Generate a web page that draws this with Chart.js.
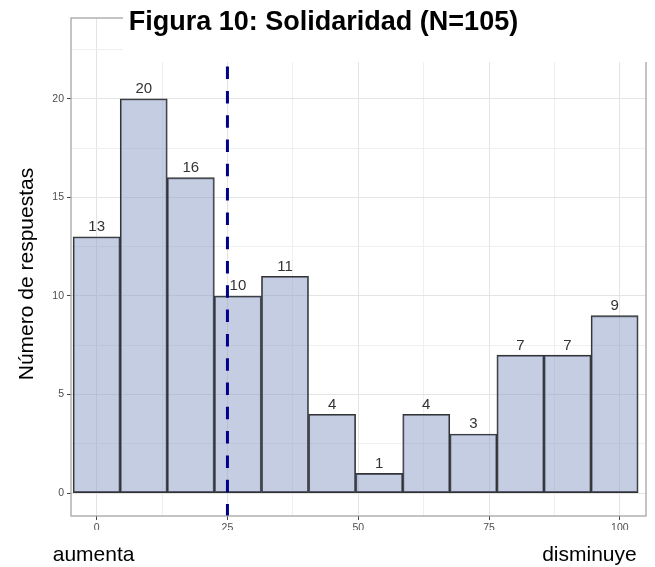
<!DOCTYPE html>
<html>
<head>
<meta charset="utf-8">
<script src="https://cdn.jsdelivr.net/npm/chart.js@4.4.1/dist/chart.umd.min.js"></script>
<style>
  html, body { margin: 0; padding: 0; background: #fff; }
  #grafico { display: block; }
</style>
</head>
<body>
<canvas id="grafico" width="655" height="567"></canvas>
<script>
'use strict'

// histograma: centro de cada intervalo y numero de respuestas
var centros = [0, 9, 18, 27, 36, 45, 54, 63, 72, 81, 90, 99];
var respuestas = [13, 20, 16, 10, 11, 4, 1, 4, 3, 7, 7, 9];
var ticksX = [0, 12.5, 25, 37.5, 50, 62.5, 75, 87.5, 100];
var ticksY = [0, 2.5, 5, 7.5, 10, 12.5, 15, 17.5, 20, 22.5];
var lineaRef = 25;          // linea discontinua
var limX = [-4.9, 105];
var limY = [-1.16, 24.1];

var titulo = 'Figura 10: Solidaridad (N=105)';
var tituloY = 'Número de respuestas';
var extremos = ['aumenta', 'disminuye'];

var fuente = '"Liberation Sans", Arial, Helvetica, sans-serif';
Chart.defaults.font.family = fuente;

function esMayor(c, paso){
  return c.tick && Math.abs(c.tick.value % paso) < 1e-9;
}

// marco, recuadro blanco, etiquetas y textos
var decorado = {
  id: 'decorado',
  afterDraw: function(chart){
    var ctx = chart.ctx, a = chart.chartArea;
    ctx.save();
    ctx.strokeStyle = '#9d9d9d';
    ctx.lineWidth = 1.2;
    ctx.strokeRect(a.left, a.top, a.right - a.left, a.bottom - a.top);

    ctx.fillStyle = '#fff';
    ctx.fillRect(123, 0, chart.width - 123, 62);
    ctx.fillRect(40, 530, chart.width - 40, 12);

    var meta = chart.getDatasetMeta(1);
    ctx.fillStyle = '#333';
    ctx.font = '15px ' + fuente;
    ctx.textAlign = 'center';
    ctx.textBaseline = 'alphabetic';
    meta.data.forEach(function(bar, i){
      ctx.fillText(String(respuestas[i]), bar.x, bar.y - 5.5);
    });

    ctx.fillStyle = '#000';
    ctx.textAlign = 'left';
    ctx.font = 'bold 27px ' + fuente;
    ctx.fillText(titulo, 128.8, 30);

    ctx.font = '21px ' + fuente;
    ctx.fillText(extremos[0], 52.7, 560.5);
    ctx.textAlign = 'right';
    ctx.fillText(extremos[1], 636.7, 560.5);

    ctx.translate(33, 274);
    ctx.rotate(-Math.PI / 2);
    ctx.textAlign = 'center';
    ctx.fillText(tituloY, 0, 0);
    ctx.restore();
  }
};

var grafico = new Chart(document.getElementById('grafico'), {
  type: 'bar',
  data: {
    datasets: [{
      type: 'line',
      data: [{x: lineaRef, y: limY[1]}, {x: lineaRef, y: limY[0]}],
      borderColor: '#00008b',
      borderWidth: 3,
      borderDash: [12.5, 11.8],
      pointRadius: 0,
      fill: false,
      order: 0
    }, {
      type: 'bar',
      label: 'Respuestas',
      data: centros.map(function(c, i){ return {x: c, y: respuestas[i]} }),
      backgroundColor: 'rgba(139,155,199,0.5)',
      borderColor: '#333',
      borderWidth: 1.2,
      borderSkipped: false,
      barPercentage: 1,
      categoryPercentage: 1,
      order: 1
    }]
  },
  options: {
    responsive: false,
    animation: false,
    events: [],
    layout: { padding: { top: 18, right: 9, bottom: 0, left: 0 } },
    plugins: {
      legend: { display: false },
      title: { display: false },
      tooltip: { enabled: false }
    },
    scales: {
      x: {
        type: 'linear',
        min: limX[0], max: limX[1],
        offset: false,
        afterBuildTicks: function(s){ s.ticks = ticksX.map(function(v){ return {value: v} }) },
        afterFit: function(s){ s.height = 51 },
        border: { display: false },
        grid: {
          offset: false,
          color: function(c){ return esMayor(c, 25) ? '#e4e4e4' : '#efefef' },
          lineWidth: 1,
          tickLength: 4,
          tickColor: function(c){ return esMayor(c, 25) ? '#444' : 'rgba(0,0,0,0)' }
        },
        ticks: {
          autoSkip: false,
          maxRotation: 0,
          padding: 2,
          color: '#4d4d4d',
          font: { size: 10.5 },
          callback: function(v){ return v % 25 === 0 ? v : '' }
        }
      },
      y: {
        min: limY[0], max: limY[1],
        afterBuildTicks: function(s){ s.ticks = ticksY.map(function(v){ return {value: v} }) },
        afterFit: function(s){ s.width = 71 },
        border: { display: false },
        grid: {
          color: function(c){ return esMayor(c, 5) ? '#e4e4e4' : '#efefef' },
          lineWidth: 1,
          tickLength: 4,
          tickColor: function(c){ return esMayor(c, 5) ? '#444' : 'rgba(0,0,0,0)' }
        },
        ticks: {
          autoSkip: false,
          padding: 3,
          color: '#4d4d4d',
          font: { size: 10.5 },
          callback: function(v){ return v % 5 === 0 ? v : '' }
        }
      }
    }
  },
  plugins: [decorado]
});
</script>
</body>
</html>
